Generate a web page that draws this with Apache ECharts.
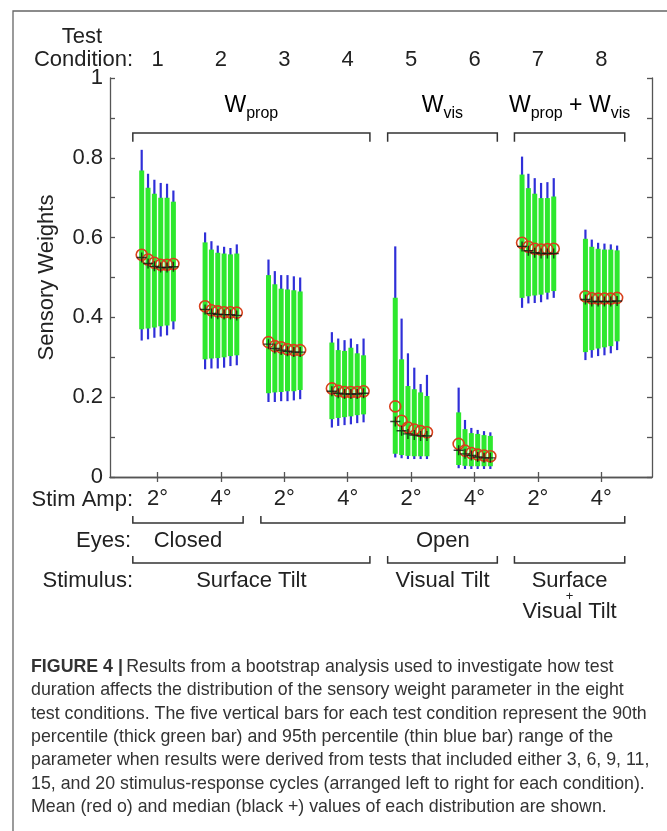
<!DOCTYPE html>
<html><head><meta charset="utf-8">
<script src="https://cdn.jsdelivr.net/npm/echarts@6/dist/echarts.min.js"></script>
<style>html,body{margin:0;padding:0;background:#fff}#c{width:667px;height:831px}</style>
</head><body><div id="c"></div>
<script>
// ---------- data ----------
const conditions = [1,2,3,4,5,6,7,8];
const stimAmpLabels = ['2°','4°','2°','4°','2°','4°','2°','4°'];
const cycleOffsets = [-0.25,-0.15,-0.05,0.05,0.15,0.25]; // 3,6,9,11,15,20 cycles
const blueHigh = [
 [0.82,0.76,0.745,0.737,0.735,0.718],
 [0.613,0.591,0.58,0.577,0.574,0.583],
 [0.545,0.516,0.506,0.506,0.503,0.50],
 [0.363,0.347,0.343,0.347,0.333,0.347],
 [0.578,0.397,0.31,0.274,0.233,0.256],
 [0.224,0.143,0.123,0.118,0.115,0.112],
 [0.803,0.76,0.749,0.737,0.739,0.749],
 [0.62,0.595,0.587,0.585,0.583,0.58]
];
const greenHigh = [
 [0.768,0.725,0.71,0.70,0.70,0.69],
 [0.588,0.57,0.562,0.56,0.558,0.56],
 [0.506,0.483,0.472,0.47,0.468,0.465],
 [0.337,0.318,0.316,0.324,0.31,0.305],
 [0.449,0.295,0.228,0.22,0.212,0.203],
 [0.162,0.12,0.11,0.108,0.105,0.103],
 [0.758,0.724,0.71,0.699,0.699,0.703],
 [0.597,0.577,0.572,0.57,0.57,0.568]
];
const greenLow = [
 [0.37,0.372,0.375,0.378,0.38,0.39],
 [0.295,0.297,0.298,0.30,0.303,0.305],
 [0.21,0.212,0.213,0.215,0.215,0.218],
 [0.145,0.148,0.15,0.152,0.155,0.157],
 [0.058,0.055,0.053,0.052,0.052,0.052],
 [0.03,0.028,0.027,0.027,0.027,0.027],
 [0.449,0.453,0.455,0.457,0.462,0.466],
 [0.313,0.318,0.322,0.325,0.328,0.34]
];
const blueLow = [
 [0.342,0.345,0.349,0.352,0.355,0.37],
 [0.27,0.272,0.272,0.274,0.278,0.28],
 [0.188,0.188,0.19,0.19,0.192,0.195],
 [0.124,0.128,0.13,0.132,0.135,0.137],
 [0.049,0.047,0.045,0.045,0.045,0.045],
 [0.022,0.02,0.02,0.02,0.02,0.02],
 [0.424,0.435,0.436,0.438,0.445,0.449],
 [0.293,0.299,0.303,0.305,0.31,0.318]
];
const means = [
 [0.557,0.545,0.537,0.532,0.532,0.534],
 [0.428,0.418,0.415,0.413,0.413,0.412],
 [0.338,0.328,0.325,0.32,0.318,0.318],
 [0.222,0.216,0.213,0.213,0.213,0.215],
 [0.177,0.141,0.124,0.119,0.115,0.112],
 [0.083,0.066,0.06,0.056,0.054,0.052],
 [0.587,0.577,0.572,0.57,0.571,0.572],
 [0.453,0.448,0.447,0.447,0.447,0.449]
];
const medians = [
 [0.55,0.535,0.528,0.525,0.525,0.527],
 [0.42,0.41,0.408,0.407,0.407,0.405],
 [0.333,0.322,0.318,0.315,0.313,0.313],
 [0.215,0.21,0.208,0.208,0.208,0.21],
 [0.139,0.116,0.108,0.105,0.103,0.103],
 [0.067,0.058,0.054,0.05,0.048,0.048],
 [0.578,0.567,0.562,0.56,0.56,0.56],
 [0.445,0.44,0.44,0.44,0.44,0.441]
];
// annotation groups (in condition units)
const weightFrom = [0.61,4.63,6.63];
const weightTo   = [4.35,6.36,8.37];
const eyesLabels = ['Closed','Open'];
const eyesFrom = [0.61,2.63];
const eyesTo   = [2.35,8.37];
const stimulusLabels = ['Surface Tilt','Visual Tilt','Surface|+|Visual Tilt'];
const stimulusFrom = [0.61,4.63,6.63];
const stimulusTo   = [4.35,6.36,8.37];
const captionLines = [
 'Results from a bootstrap analysis used to investigate how test',
 'duration affects the distribution of the sensory weight parameter in the eight',
 'test conditions. The five vertical bars for each test condition represent the 90th',
 'percentile (thick green bar) and 95th percentile (thin blue bar) range of the',
 'parameter when results were derived from tests that included either 3, 6, 9, 11,',
 '15, and 20 stimulus-response cycles (arranged left to right for each condition).',
 'Mean (red o) and median (black +) values of each distribution are shown.'
];

// ---------- build ----------
const FONT = '"Liberation Sans", Arial, Helvetica, sans-serif';
const TXT = '#222';
const AX = '#555';
const FS = 22;
const rangeData = [], meanData = [], medianData = [];
conditions.forEach((c, i) => {
  cycleOffsets.forEach((o, k) => {
    const x = c + o;
    rangeData.push([x, blueLow[i][k], blueHigh[i][k], greenLow[i][k], greenHigh[i][k]]);
    meanData.push([x, means[i][k]]);
    medianData.push([x, medians[i][k]]);
  });
});
const bracketData = weightFrom.map((f, i) => [f, weightTo[i], i]);

const chart = echarts.init(document.getElementById('c'), null, {renderer: 'canvas'});
const axisCommon = {
  min: 0.25, max: 8.8, type: 'value',
  axisLine: {show: true, lineStyle: {color: AX, width: 1.3}},
  axisTick: {show: true, inside: true, length: 5, customValues: conditions, lineStyle: {color: AX, width: 1.3}},
  splitLine: {show: false}
};
const yCommon = {
  type: 'value', min: 0, max: 1, interval: 0.1,
  axisLine: {show: true, lineStyle: {color: AX, width: 1.3}},
  axisTick: {show: true, inside: true, length: 5, lineStyle: {color: AX, width: 1.3}},
  splitLine: {show: false}
};
const wRich = {
  w: {fontSize: 23, fontFamily: FONT, color: TXT, verticalAlign: 'bottom', padding: [0,0,4,0]},
  s: {fontSize: 16, fontFamily: FONT, color: TXT, verticalAlign: 'bottom'}
};
const wText = ['{w|W}{s|prop}', '{w|W}{s|vis}', '{w|W}{s|prop}{w| + W}{s|vis}'];

const option = {
  animation: false,
  backgroundColor: '#fff',
  textStyle: {fontFamily: FONT},
  grid: {left: 110, right: 15, top: 78, bottom: 354},
  xAxis: [
    Object.assign({}, axisCommon, {position: 'bottom',
      axisLabel: {show: true, customValues: conditions, margin: 11, fontSize: FS, color: TXT, fontFamily: FONT,
        formatter: v => stimAmpLabels[Math.round(v) - 1]}}),
    Object.assign({}, axisCommon, {position: 'top',
      axisLabel: {show: true, customValues: conditions, margin: 7, fontSize: FS, color: TXT, fontFamily: FONT,
        formatter: v => String(Math.round(v))}})
  ],
  yAxis: [
    Object.assign({}, yCommon, {position: 'left', name: 'Sensory Weights', nameLocation: 'middle', nameGap: 52,
      nameTextStyle: {fontSize: FS, color: TXT, fontFamily: FONT},
      axisLabel: {show: true, margin: 7, fontSize: FS, color: TXT, fontFamily: FONT,
        formatter: v => (Math.round(v * 10) % 2 === 0) ? String(+v.toFixed(1)) : ''}}),
    Object.assign({}, yCommon, {position: 'right', axisLabel: {show: false}})
  ],
  series: [
    {
      type: 'custom', name: 'ranges', xAxisIndex: 0, yAxisIndex: 0, data: rangeData,
      encode: {x: 0, y: [1, 2, 3, 4]}, z: 2,
      renderItem: (params, api) => {
        const x = api.value(0);
        const bl = api.coord([x, api.value(1)]), bh = api.coord([x, api.value(2)]);
        const gl = api.coord([x, api.value(3)]), gh = api.coord([x, api.value(4)]);
        return {type: 'group', children: [
          {type: 'rect', shape: {x: bl[0] - 1.1, y: bh[1], width: 2.2, height: bl[1] - bh[1]}, style: {fill: '#2f2fd8'}},
          {type: 'rect', shape: {x: gl[0] - 2.5, y: gh[1], width: 5, height: gl[1] - gh[1]}, style: {fill: '#2ee82e'}}
        ]};
      }
    },
    {
      type: 'scatter', name: 'mean', data: meanData, z: 3,
      symbol: 'circle', symbolSize: 11,
      itemStyle: {color: 'rgba(0,0,0,0)', borderColor: '#d8401c', borderWidth: 1.6, opacity: 1}
    },
    {
      type: 'scatter', name: 'median', data: medianData, z: 4,
      symbol: 'path://M4.3,0h1.4v4.3h4.3v1.4h-4.3v4.3h-1.4v-4.3h-4.3v-1.4h4.3z', symbolSize: 10,
      itemStyle: {color: '#111'}
    },
    {
      type: 'custom', name: 'brackets', data: bracketData, encode: {x: [0, 1]}, z: 2,
      renderItem: (params, api) => {
        const a = api.value(0), b = api.value(1), idx = api.value(2);
        const p1 = api.coord([a, 0.84]), p2 = api.coord([a, 0.862]);
        const p3 = api.coord([b, 0.862]), p4 = api.coord([b, 0.84]);
        const c = api.coord([(a + b) / 2, 0.925]);
        return {type: 'group', children: [
          {type: 'polyline', shape: {points: [p1, p2, p3, p4]}, style: {stroke: '#333', lineWidth: 1.5, fill: null}},
          {type: 'text', x: c[0], y: c[1], style: {text: wText[idx], rich: wRich, align: 'center', verticalAlign: 'middle'}}
        ]};
      }
    }
  ]
};
chart.setOption(option);

// ---------- annotations outside the plot ----------
const px = u => chart.convertToPixel({xAxisIndex: 0}, u);
const g = [];
g.push({type: 'rect', shape: {x: 13, y: 11, width: 720, height: 900}, style: {fill: null, stroke: '#666', lineWidth: 1.3}, silent: true});
const txt = (t, x, y, align, size, extra) => g.push({type: 'text', x: x, y: y,
  style: Object.assign({text: t, fill: TXT, font: (size || FS) + 'px ' + FONT, align: align || 'center', verticalAlign: 'middle'}, extra || {})});
txt('Test', 82, 37);
txt('Condition:', 133, 60, 'right');
txt('Stim Amp:', 133, 500, 'right');
txt('Eyes:', 131, 541, 'right');
txt('Stimulus:', 133, 581, 'right');
const bracketUp = (a, b, y) => {
  const x1 = px(a), x2 = px(b);
  g.push({type: 'polyline', shape: {points: [[x1, y - 7], [x1, y], [x2, y], [x2, y - 7]]}, style: {stroke: '#333', lineWidth: 1.5, fill: null}});
};
eyesLabels.forEach((l, i) => {
  bracketUp(eyesFrom[i], eyesTo[i], 523);
  txt(l, px((eyesFrom[i] + eyesTo[i]) / 2), 541);
});
stimulusLabels.forEach((l, i) => {
  bracketUp(stimulusFrom[i], stimulusTo[i], 563);
  const cx = px((stimulusFrom[i] + stimulusTo[i]) / 2);
  const parts = l.split('|');
  if (parts.length === 1) txt(l, cx, 581);
  else { txt(parts[0], cx, 581); txt(parts[1], cx, 596, 'center', 13); txt(parts[2], cx, 612); }
});
// caption
const capY0 = 667, capDy = 23.4, capFS = 17.8;
captionLines.forEach((line, i) => {
  if (i === 0) {
    g.push({type: 'text', x: 31, y: capY0, style: {
      text: '{b|FIGURE 4 |} {n|' + line + '}', verticalAlign: 'middle', align: 'left',
      rich: {b: {fontWeight: 'bold', fontSize: capFS, fontFamily: FONT, fill: '#333'}, n: {fontSize: capFS, fontFamily: FONT, fill: '#333'}}}});
  } else {
    txt(line, 31, capY0 + i * capDy, 'left', capFS, {fill: '#333'});
  }
});
chart.setOption({graphic: {elements: g}});
</script>
</body></html>
